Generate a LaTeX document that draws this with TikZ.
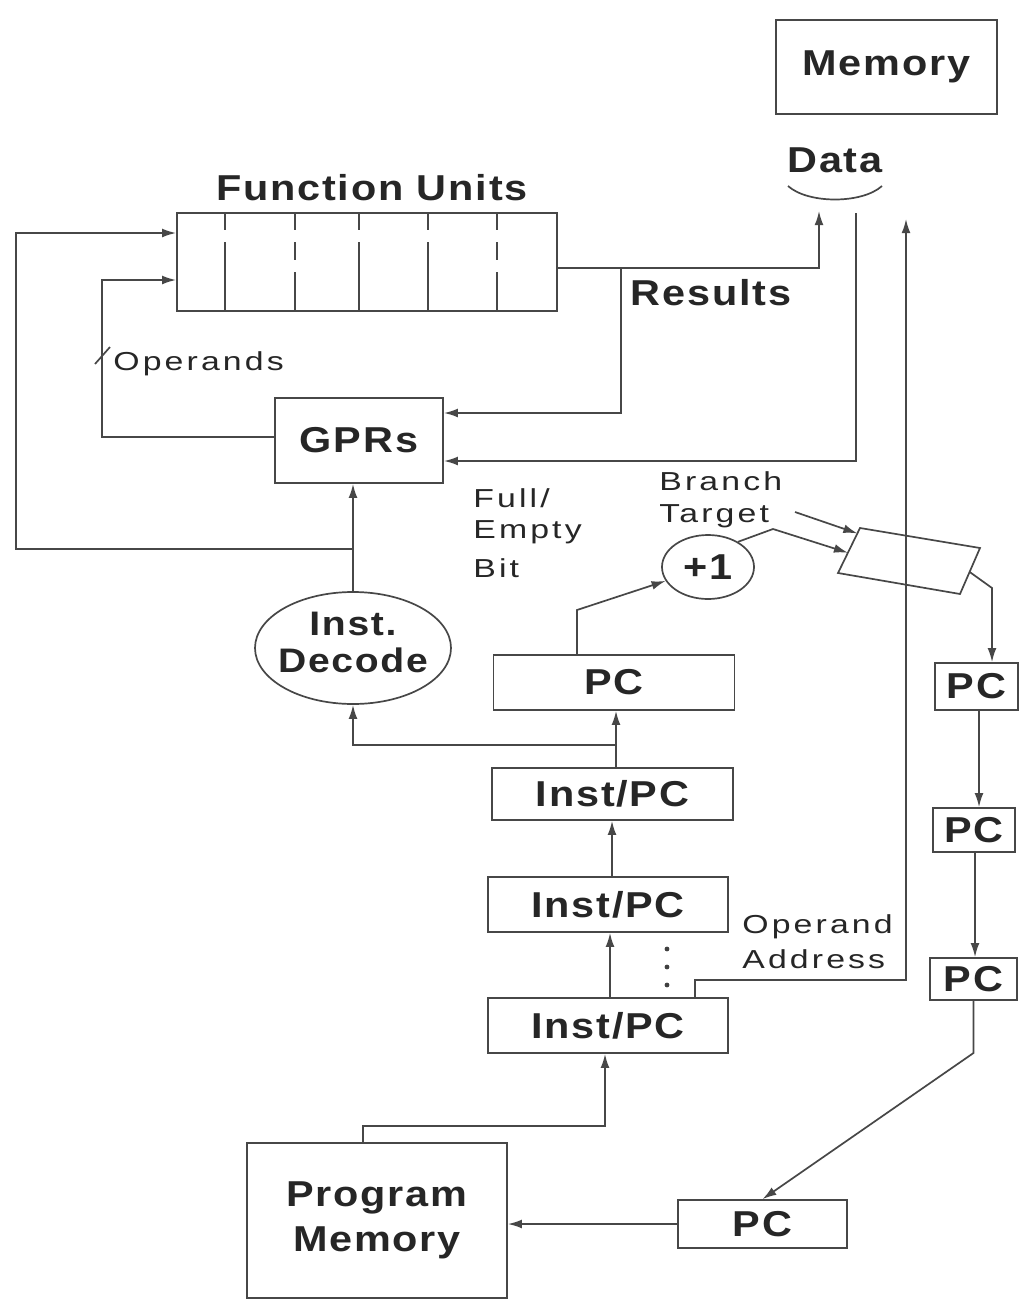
\documentclass[tikz,border=0pt]{standalone}
\usepackage{fontspec}
\setmainfont{Liberation Sans}
\newfontfamily\bigf[FakeStretch=1.15,LetterSpace=5]{Liberation Sans Bold}
\newfontfamily\smf[FakeStretch=1.3,LetterSpace=12]{Liberation Sans}
\usetikzlibrary{arrows.meta,shapes.geometric,calc}
\begin{document}
\begin{tikzpicture}[x=0.5pt,y=-0.5pt,
  ln/.style={draw=black!72,line width=0.85pt},
  arr/.style={ln,-{Latex[length=7pt,width=4.4pt]}},
  box/.style={rectangle,ln,inner sep=0pt,font=\bigf\fontsize{18}{20}\selectfont,text=black!85},
  lab/.style={inner sep=0pt,font=\smf\fontsize{13}{15}\selectfont,text=black!85},
  blab/.style={inner sep=0pt,font=\bigf\fontsize{18}{20}\selectfont,text=black!85},
  patA/.style={ln,dash pattern=on 9pt off 6pt on 40pt off 0pt},
  patB/.style={ln,dash pattern=on 9pt off 6pt on 9pt off 6pt on 40pt off 0pt}]
\useasboundingbox (0,0) rectangle (1029,1301);
\fill[white] (0,0) rectangle (1029,1301);

% --- top: memory and data
\node[box,minimum width=110.5pt,minimum height=47pt] (mem) at (886.5,67) {Memory};
\node[blab] (data) at (835,160) {Data};
\draw[ln] (788,186) .. controls (808,204) and (862,204) .. (882,186);

% --- function units
\node[blab] (fulab) at (372,188) {Function Units};
\node[box,minimum width=190pt,minimum height=49pt] (fu) at (367,262) {};
\foreach \x in {225,359,428} \draw[patA] (fu.north -| \x,0) -- (fu.south -| \x,0);
\foreach \x in {295,497} \draw[patB] (fu.north -| \x,0) -- (fu.south -| \x,0);
\node[blab] (res) at (711,293) {Results};

% --- GPRs
\node[box,minimum width=84pt,minimum height=42.5pt] (gpr) at (359,440.5) {GPRs};
\node[lab,anchor=base west] (opl) at (113,370) {Operands};
\node[lab,anchor=base west] (fe1) at (473,507) {Full/};
\node[lab,anchor=base west] (fe2) at (473,538) {Empty};
\node[lab,anchor=base west] (fe3) at (473,577) {Bit};
\node[lab,anchor=base west] (bt1) at (659,490) {Branch};
\node[lab,anchor=base west] (bt2) at (659,522) {Target};

% --- +1, decode
\node[ellipse,ln,minimum width=46pt,minimum height=32pt,inner sep=0pt,font=\bigf\fontsize{18}{20}\selectfont,text=black!85] (plus) at (708,567) {+1};
\node[ellipse,ln,minimum width=98pt,minimum height=56pt,inner sep=0pt] (dec) at (353,648) {};
\node[blab,align=center,font=\bigf\fontsize{17}{18.5}\selectfont] (dect) at (353,642) {Inst.\\Decode};

% --- pipeline boxes
\node[box,minimum width=120.5pt,minimum height=27.5pt] (pc) at (614,682.5) {PC};
\node[box,minimum width=120.5pt,minimum height=26pt] (ip1) at (612.5,794) {Inst/PC};
\node[box,minimum width=120pt,minimum height=27.5pt] (ip2) at (608,904.5) {Inst/PC};
\node[box,minimum width=120pt,minimum height=27.5pt] (ip3) at (608,1025.5) {Inst/PC};
\node[lab,anchor=base west] (oa1) at (742,933) {Operand};
\node[lab,anchor=base west] (oa2) at (742,968) {Address};
\foreach \y in {949,967,985} \fill[black!75] (667,\y) circle (1.2pt);

% --- right column
\coordinate (pTL) at (860,528);
\coordinate (pTR) at (980,548);
\coordinate (pBR) at (960,594);
\coordinate (pBL) at (838,573);
\draw[ln] (pTL) -- (pTR) -- (pBR) -- (pBL) -- cycle;
\node[box,minimum width=41.5pt,minimum height=23.5pt] (rpc1) at (976.5,686.5) {PC};
\node[box,minimum width=41pt,minimum height=22pt] (rpc2) at (974,830) {PC};
\node[box,minimum width=43.5pt,minimum height=21pt] (rpc3) at (973.5,979) {PC};
\node[box,minimum width=84.5pt,minimum height=24pt] (bpc) at (762.5,1224) {PC};
\node[box,minimum width=130pt,minimum height=77.5pt,align=center,font=\bigf\fontsize{18}{22.5}\selectfont] (pm) at (377,1220.5) {Program\\Memory};

% --- connectors
\draw[arr] (fu.east |- 0,268) -| (819,211);
\draw[arr] (621,268) |- (gpr.east |- 0,413);
\draw[arr] (856,213) |- (gpr.east |- 0,461);
\draw[arr] (gpr.west |- 0,437) -| (102,280) -- (fu.west |- 0,280);
\draw[ln] (95,364) -- (110,347);
\draw[arr] (dec.north |- 0,549) -| (16,233) -- (fu.west |- 0,233);
\draw[arr] (dec.north) -- (dec.north |- gpr.south);
\draw[arr] (ip1.north -| 616,0) -- (pc.south -| 616,0);
\draw[arr] (616,745) -| (dec.south);
\draw[arr] (ip2.north -| 612,0) -- (ip1.south -| 612,0);
\draw[arr] (ip3.north -| 610,0) -- (ip2.south -| 610,0);
\draw[arr] (pc.north -| 577,0) -- (577,610) -- (plus);
\draw[arr] (plus.40) -- (773,529) -- ($(pTL)!0.55!(pBL)$);
\draw[arr] (795,512) -- ($(pTL)!0.12!(pBL)$);
\draw[arr] ($(pTR)!0.52!(pBR)$) -- (992,588) -- (rpc1.north -| 992,0);
\draw[arr] (rpc1.south -| 979,0) -- (rpc2.north -| 979,0);
\draw[arr] (rpc2.south -| 975,0) -- (rpc3.north -| 975,0);
\draw[arr] (rpc3.south) -- (rpc3.south |- 0,1053) -- (bpc.north);
\draw[arr] (bpc.west) -- (pm.east |- bpc.west);
\draw[arr] (pm.north -| 363,0) -- (363,1126) -| (ip3.south -| 605,0);
\draw[arr] (ip3.north -| 695,0) -- (695,980) -| (906,219);
\end{tikzpicture}
\end{document}
